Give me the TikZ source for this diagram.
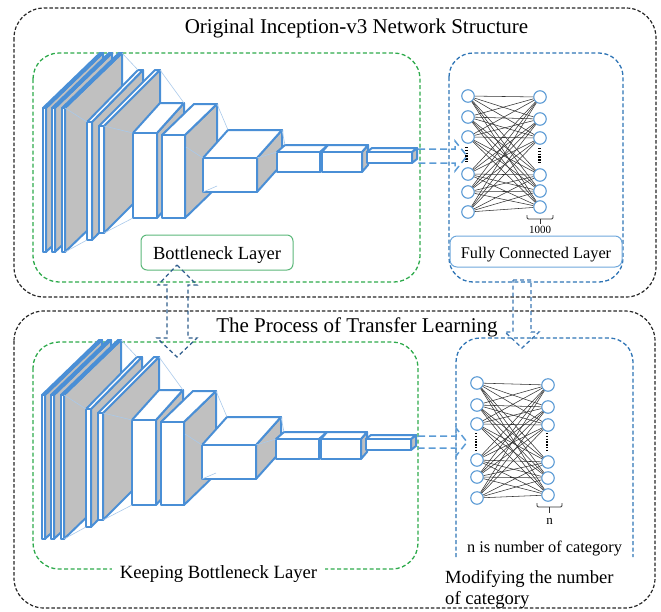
\documentclass[tikz,border=0pt]{standalone}
\usepackage{fontspec}
\setmainfont{Liberation Serif}

\definecolor{cnnblue}{HTML}{4A8FD6}
\definecolor{sidegray}{HTML}{C0C0C0}
\definecolor{faintblue}{HTML}{A9C9EA}
\definecolor{grpgreen}{HTML}{2EAA4C}
\definecolor{grpblue}{HTML}{2E74B5}
\definecolor{lblgreen}{HTML}{5CB87A}
\definecolor{lblblue}{HTML}{6FA8DC}
\definecolor{neuronblue}{HTML}{5B9BD5}
\definecolor{flowblue}{HTML}{5B9BD5}
\definecolor{swapnavy}{HTML}{2F5D8C}
\definecolor{downblue}{HTML}{3C78B4}

\tikzset{
  outerbox/.style={draw=black!85, line width=1.2pt, dash pattern=on 3.5pt off 2pt, rounded corners=30pt},
  greenbox/.style={draw=grpgreen, line width=1.3pt, dash pattern=on 4pt off 2.5pt, rounded corners=26pt},
  bluebox/.style={draw=grpblue, line width=1.3pt, dash pattern=on 4pt off 2.5pt, rounded corners=24pt},
  blk/.style={draw=cnnblue, line width=2pt, line join=round},
  faint/.style={draw=faintblue, line width=0.6pt},
  neuron/.style={circle, draw=neuronblue, line width=1.1pt, fill=white, minimum size=12.5pt, inner sep=0pt},
  link/.style={draw=black!80, line width=0.55pt},
  vdots/.style={draw=black, line width=2.2pt, dash pattern=on 1.4pt off 1.4pt},
  bracket/.style={draw=black!80, line width=0.9pt, rounded corners=1.2pt},
  flowarrow/.style={draw=flowblue, line width=1.5pt, dash pattern=on 7pt off 4pt, line join=miter},
  swaparrow/.style={draw=swapnavy, line width=1.3pt, dash pattern=on 4pt off 3pt, line join=miter},
  downarrow/.style={draw=downblue, line width=1.3pt, dash pattern=on 4pt off 3pt, line join=miter},
  titletext/.style={font=\fontsize{21}{25}\selectfont, anchor=base, inner sep=0pt},
}

% one 3D block: front top-left (#1,#2), width #3, height #4, depth offset right #5 / up #6
\newcommand{\cnnblock}[6]{%
  \draw[blk, fill=sidegray] (#1+#3,#2) -- ++(#5,-#6) -- ++(0,#4) -- (#1+#3,#2+#4) -- cycle;
  \draw[blk, fill=white] (#1,#2) -- ++(#5,-#6) -- ++(#3,0) -- (#1+#3,#2) -- cycle;
  \draw[blk, fill=white] (#1,#2) rectangle ++(#3,#4);
}

% the convolutional stack of Inception-v3
\newcommand{\cnnstack}{%
  \cnnblock{43}{108}{3}{144}{57}{55}
  \cnnblock{52}{108}{3}{144}{57}{55}
  \cnnblock{62}{108}{3}{144}{57}{55}
  \cnnblock{87}{122}{5}{118}{51}{52}
  \cnnblock{99}{126}{5}{107}{56}{56}
  \cnnblock{133}{133}{24}{85}{27}{30}
  \cnnblock{162}{135}{23}{83}{32}{31}
  \cnnblock{203}{158}{54}{34}{25}{28}
  \cnnblock{277}{152}{43}{20}{8}{7}
  \cnnblock{322}{152}{40}{20}{6}{7}
  \cnnblock{367}{152}{45}{11}{5}{4}
  \draw[faint] (65,108) -- (87,122);
  \draw[faint] (65,252) -- (87,240);
  \draw[faint] (122,53) -- (138,70);
  \draw[faint] (104,126) -- (133,133);
  \draw[faint] (104,233) -- (133,218);
  \draw[faint] (160,70) -- (184,103);
  \draw[faint] (217,104) -- (228,130);
  \draw[faint] (186,147) -- (203,158);
  \draw[faint] (203,192) -- (217,186);
  \draw[faint] (257,158) -- (277,152);
  \draw[faint] (282,130) -- (285,145);
}

\begin{document}
\begin{tikzpicture}[x=1pt,y=-1pt]
\useasboundingbox (0,0) rectangle (661,611);

% outer frames
\draw[outerbox] (14,8) rectangle (656,297);
\draw[outerbox] (14,311) rectangle (655,608);

\node[titletext] (toptitle) at (356.5,33) {Original Inception-v3 Network Structure};
\node[titletext] (bottitle) at (357,332) {The Process of Transfer Learning};

% group frames
\draw[greenbox] (33,53) rectangle (420,282);
\draw[bluebox] (449,53) rectangle (623,282);
\draw[greenbox] (33,342) rectangle (418,569);
\draw[bluebox] (456,557) -- (456,338) -- (633,338) -- (633,557);

% convolutional stacks
\cnnstack
\begin{scope}[shift={(-1,287)}]
  \cnnstack
\end{scope}

% fully connected layer (original, 1000 classes)
\foreach \y [count=\i] in {96,117,137,174,192,212}
  \node[neuron] (tl\i) at (468,\y) {};
\foreach \y [count=\i] in {97,119,138,175,191,207}
  \node[neuron] (tr\i) at (540,\y) {};
\foreach \i in {1,...,6}
  \foreach \j in {1,...,6}
    \draw[link] (tl\i) -- (tr\j);
\draw[vdots] (466.5,147) -- (466.5,163);
\draw[vdots] (539.5,148) -- (539.5,163);
\draw[bracket] (527,215) -- (527,219) -- (553,219) -- (553,215);
\draw[bracket] (540,219) -- (540,223.5);
\node[anchor=base, font=\fontsize{11}{13}\selectfont, inner sep=0pt] (k1000) at (540,233) {1000};

% fully connected layer (retrained, n classes)
\foreach \y [count=\i] in {383,405,424,460,477,498}
  \node[neuron] (bl\i) at (477,\y) {};
\foreach \y [count=\i] in {385,407,425,462,478,495}
  \node[neuron] (br\i) at (548,\y) {};
\foreach \i in {1,...,6}
  \foreach \j in {1,...,6}
    \draw[link] (bl\i) -- (br\j);
\draw[vdots] (476,433) -- (476,450);
\draw[vdots] (547,433) -- (547,450);
\draw[bracket] (537,503) -- (537,507) -- (562,507) -- (562,503);
\draw[bracket] (549.5,507) -- (549.5,513);
\node[anchor=base, font=\fontsize{13}{15}\selectfont, inner sep=0pt] (ncat) at (549.5,524) {n};

% labels
\node[draw=lblgreen, line width=1pt, rounded corners=6pt, fill=white,
      minimum width=152pt, minimum height=35pt, text height=13pt, text depth=0pt,
      font=\fontsize{18.5}{22}\selectfont] (bneck) at (217,252.5) {Bottleneck Layer};
\node[draw=lblblue, line width=1pt, rounded corners=7pt, fill=white,
      minimum width=172pt, minimum height=31pt, text height=13pt, text depth=0pt,
      font=\fontsize{16.3}{20}\selectfont] (fcl) at (536,251.5) {Fully Connected Layer};
\node[anchor=base, fill=white, inner xsep=8pt, inner ysep=3pt,
      font=\fontsize{18.7}{22}\selectfont] (keep) at (218.5,578) {Keeping Bottleneck Layer};
\node[anchor=base, inner sep=0pt, font=\fontsize{16.3}{20}\selectfont] (ncap) at (544.5,552) {n is number of category};
\node[anchor=base west, inner sep=0pt, font=\fontsize{18.6}{22}\selectfont] (modify1) at (445,583) {Modifying the number};
\node[anchor=base west, inner sep=0pt, font=\fontsize{18.6}{22}\selectfont] (modify2) at (445,604) {of category};

% flow arrows from the stacks into the dense layers
\draw[flowarrow] (418,149) -- (455,149) -- (455,141) -- (467,156) -- (455,171) -- (455,163) -- (418,163);
\draw[flowarrow] (418,436) -- (456,436) -- (456,428) -- (467,442) -- (456,456) -- (456,448) -- (418,448);

% transfer arrows between the two frames
\draw[swaparrow] (177,265) -- (197,285) -- (188,285) -- (188,338) -- (197,338) -- (177,357)
                 -- (157,338) -- (167,338) -- (167,285) -- (158,285) -- cycle;
\draw[downarrow] (513,280) -- (531,280) -- (531,332) -- (539,332) -- (522,348) -- (505,332) -- (513,332) -- cycle;
\end{tikzpicture}
\end{document}
